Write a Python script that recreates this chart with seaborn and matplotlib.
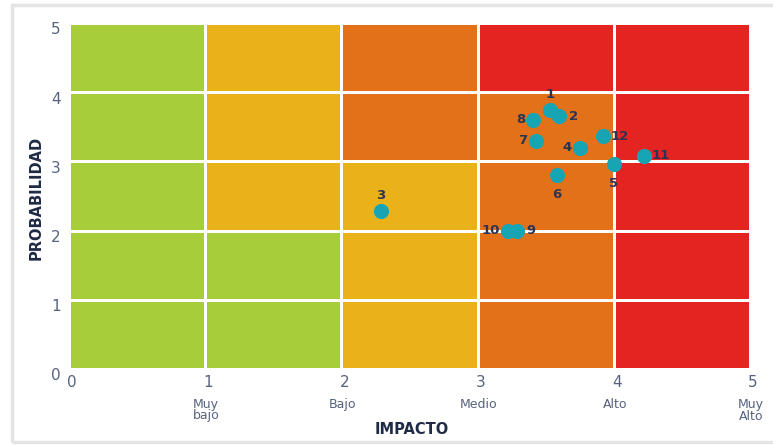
import numpy as np
import matplotlib
matplotlib.use("Agg")
import matplotlib.pyplot as plt
from matplotlib.colors import ListedColormap
from matplotlib.patches import Rectangle
import matplotlib.transforms as mtransforms
import seaborn as sns

# risk level per cell, rows from probabilidad 0-1 (bottom) up to 4-5 (top)
# 0 = bajo (verde), 1 = medio (amarillo), 2 = alto (naranja), 3 = muy alto (rojo)
risk_grid = [
    [0, 0, 1, 2, 3],
    [0, 0, 1, 2, 3],
    [0, 1, 1, 2, 3],
    [0, 1, 2, 2, 3],
    [0, 1, 2, 3, 3],
]
risk_colors = ["#a8cd3a", "#e9b219", "#e3711a", "#e32420"]

# riesgos
riesgo_ids = ["1", "2", "3", "4", "5", "6", "7", "8", "9", "10", "11", "12"]
impacto = [3.53, 3.60, 2.29, 3.75, 4.00, 3.58, 3.43, 3.41, 3.29, 3.22, 4.22, 3.92]
probabilidad = [3.74, 3.65, 2.28, 3.20, 2.96, 2.80, 3.30, 3.60, 2.00, 2.00, 3.08, 3.36]
label_side = ["above", "right", "above", "left", "below", "below",
              "left", "left", "right", "left", "right", "right"]

x_ticks = [0, 1, 2, 3, 4, 5]
x_sublabels = ["", "Muy\nbajo", "Bajo", "Medio", "Alto", "Muy\nAlto"]
y_ticks = [0, 1, 2, 3, 4, 5]

W, H = 773, 445
fig = plt.figure(figsize=(W / 100, H / 100), dpi=100)
fig.patch.set_facecolor("white")
ax = fig.add_axes([69 / W, 1 - 369 / H, (750 - 69) / W, (369 - 23) / H])

sns.heatmap(np.array(risk_grid), cmap=ListedColormap(risk_colors), vmin=-0.5, vmax=3.5,
            linewidths=2, linecolor="white", cbar=False, ax=ax)
ax.set_ylim(0, 5)
ax.set_xlim(0, 5)

ax.scatter(impacto, probabilidad, s=120, color="#17a5b3", zorder=5, linewidths=0)

offsets = {"above": (0, 16), "below": (0, -19), "left": (-13, 0), "right": (14, 0)}
for rid, x, y, side in zip(riesgo_ids, impacto, probabilidad, label_side):
    dx, dy = offsets[side]
    if len(rid) > 1 and side in ("left", "right"):
        dx = dx + (3 if dx > 0 else -4)
    ax.annotate(rid, (x, y), xytext=(dx, dy), textcoords="offset pixels",
                ha="center", va="center", fontsize=9.5, fontweight="bold",
                color="#2b3553", zorder=6)

tick_color = "#56627e"
ax.set_xticks(x_ticks)
ax.set_xticklabels([str(t) for t in x_ticks], rotation=0, fontsize=11, color=tick_color)
ax.set_yticks(y_ticks)
ax.set_yticklabels([str(t) for t in y_ticks], rotation=0, fontsize=11, color=tick_color)
ax.tick_params(axis="both", length=0)
ax.tick_params(axis="y", pad=6)
ax.tick_params(axis="x", pad=4)
shift = mtransforms.ScaledTranslation(0, -7 / 100, fig.dpi_scale_trans)
for lbl in ax.get_yticklabels():
    lbl.set_transform(lbl.get_transform() + shift)
xshift = mtransforms.ScaledTranslation(3 / 100, 0, fig.dpi_scale_trans)
for lbl in ax.get_xticklabels():
    lbl.set_transform(lbl.get_transform() + xshift)

for x, sub in zip(x_ticks, x_sublabels):
    if sub:
        ax.annotate(sub, (x, 0), xycoords=("data", "axes fraction"), xytext=(1, -29),
                    textcoords="offset pixels", ha="center", va="top", fontsize=9,
                    color=tick_color, linespacing=0.85)

ax.set_xlabel("")
ax.set_ylabel("")
for s in ax.spines.values():
    s.set_visible(False)

fig.text(412 / W, 1 - 429 / H, "IMPACTO", ha="center", va="center", fontsize=10.5,
         fontweight="bold", color="#1f2a44")
fig.text(36 / W, 1 - 198 / H, "PROBABILIDAD", ha="center", va="center", rotation=90,
         fontsize=10.5, fontweight="bold", color="#1f2a44")

fig.patches.append(Rectangle((12 / W, 3 / H), 1.0, 1 - 8 / H, transform=fig.transFigure,
                             fill=False, edgecolor="#e4e4e4", linewidth=2.5, zorder=0))

fig.savefig("out.png", dpi=100)
